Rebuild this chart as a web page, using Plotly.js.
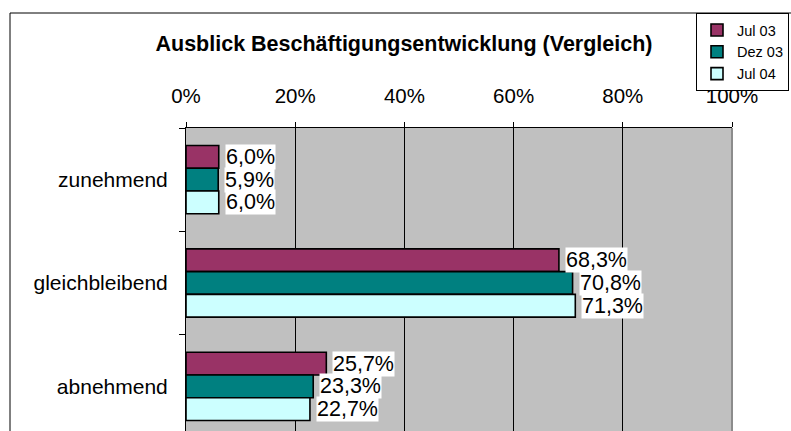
<!DOCTYPE html>
<html>
<head>
<meta charset="utf-8">
<script src="https://cdn.plot.ly/plotly-3.0.1.min.js"></script>
<style>html,body{margin:0;padding:0;background:#fff;}#chart{width:791px;height:431px;}</style>
</head>
<body>
<div id="chart"></div>
<script>
const categories = ["zunehmend", "gleichbleibend", "abnehmend"];
const seriesNames = ["Jul 03", "Dez 03", "Jul 04"];
const jul03 = [6.0, 68.3, 25.7];
const dez03 = [5.9, 70.8, 23.3];
const jul04 = [6.0, 71.3, 22.7];
const xTickVals = [0, 20, 40, 60, 80, 100];
const xTickText = ["0%", "20%", "40%", "60%", "80%", "100%"];
const colors = ["#993366", "#008080", "#CCFFFF"];

const FONT = "Arial, 'Liberation Sans', sans-serif";
const series = [jul03, dez03, jul04];
const bargap = 0.34;
const barW = (1 - bargap) / series.length;

const traces = series.map((vals, j) => ({
  type: "bar",
  orientation: "h",
  name: seriesNames[j],
  legendgroup: "g" + j,
  x: vals,
  y: categories,
  marker: {color: colors[j], line: {color: "#000", width: 1.6}},
  hoverinfo: "skip"
}));

const fmt = v => v.toFixed(1).replace(".", ",") + "%";
const annotations = [];
series.forEach((vals, j) => {
  vals.forEach((v, i) => {
    annotations.push({
      x: v, y: i + (j - (series.length - 1) / 2) * barW,
      xref: "x", yref: "y",
      text: fmt(v), showarrow: false,
      xanchor: "left", yanchor: "middle", xshift: 6,
      bgcolor: "#fff", borderpad: 0,
      font: {family: FONT, size: 21.5, color: "#000"}
    });
  });
});

const layout = {
  width: 791, height: 431,
  margin: {l: 186, r: 59, t: 128, b: 0, autoexpand: false},
  paper_bgcolor: "#fff",
  plot_bgcolor: "#C0C0C0",
  barmode: "group",
  bargap: bargap,
  bargroupgap: 0,
  showlegend: true,
  title: {
    text: "<b>Ausblick Beschäftigungsentwicklung (Vergleich)</b>",
    font: {family: FONT, size: 21.5, color: "#000"},
    x: 404 / 791, xref: "container", xanchor: "center",
    y: 1 - 43 / 431, yref: "container", yanchor: "middle"
  },
  legend: {
    x: 789 / 791, xref: "container", xanchor: "right",
    y: 1 - 13 / 431, yref: "container", yanchor: "top",
    bgcolor: "#fff", bordercolor: "#000", borderwidth: 1,
    font: {family: FONT, size: 14.5, color: "#000"},
    traceorder: "normal", itemwidth: 30, tracegroupgap: 9
  },
  xaxis: {
    side: "top", range: [0, 100],
    tickvals: xTickVals, ticktext: xTickText,
    ticks: "outside", ticklen: 5, tickcolor: "#000", tickwidth: 1,
    ticklabelstandoff: 11,
    showline: true, linecolor: "#000", linewidth: 1,
    showgrid: true, gridcolor: "#000", gridwidth: 1,
    zeroline: false,
    tickfont: {family: FONT, size: 20.5, color: "#000"},
    fixedrange: true
  },
  yaxis: {
    type: "category", categoryorder: "array", categoryarray: categories,
    range: [2 + 0.5 - 7 / 103.3, -0.5],
    tickson: "boundaries", ticks: "outside", ticklen: 6, tickcolor: "#000",
    ticklabelstandoff: 13,
    showline: true, linecolor: "#000", linewidth: 1,
    showgrid: false, zeroline: false,
    tickfont: {family: FONT, size: 21, color: "#000"},
    fixedrange: true
  },
  shapes: [
    {type: "line", xref: "paper", yref: "paper", x0: 1, x1: 1, y0: 0, y1: 1,
     line: {color: "#8C8C8C", width: 2}},
    {type: "rect", xref: "paper", yref: "paper",
     x0: (10 - 186) / 546, x1: 1.5, y0: -0.5, y1: (431 - 13) / 303,
     line: {color: "#000", width: 1}, fillcolor: "rgba(0,0,0,0)", layer: "below"}
  ],
  annotations: annotations
};

Plotly.newPlot("chart", traces, layout, {displayModeBar: false, staticPlot: true});
</script>
</body>
</html>
